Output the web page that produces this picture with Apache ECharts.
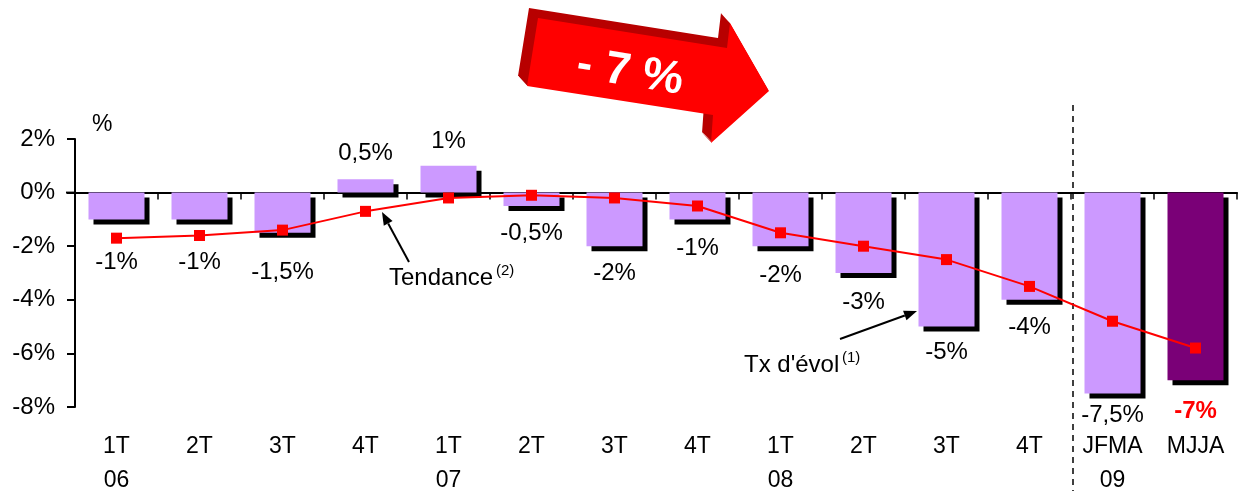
<!DOCTYPE html>
<html>
<head>
<meta charset="utf-8">
<script src="https://cdn.jsdelivr.net/npm/echarts@6/dist/echarts.min.js"></script>
<style>
  html, body { margin: 0; padding: 0; background: #fff; }
  #chart { width: 1239px; height: 491px; }
</style>
</head>
<body>
<div id="chart"></div>
<script>
// categories (trimestres / périodes)
const categories = ['1T\n06', '2T', '3T', '4T', '1T\n07', '2T', '3T', '4T', '1T\n08', '2T', '3T', '4T', 'JFMA\n09', 'MJJA']
// taux d'évolution (barres)
const evolution = [-1, -1, -1.5, 0.5, 1, -0.5, -2, -1, -2, -3, -5, -4, -7.5, -7]
const evolutionLabels = ['-1%', '-1%', '-1,5%', '0,5%', '1%', '-0,5%', '-2%', '-1%', '-2%', '-3%', '-5%', '-4%', '-7,5%', '-7%']
// tendance (ligne rouge)
const tendance = [-1.7, -1.6, -1.4, -0.7, -0.2, -0.1, -0.2, -0.5, -1.5, -2, -2.5, -3.5, -4.8, -5.8]
// distance des étiquettes par rapport aux barres
const labelGap = [31, 31, 28, 14, 12, 15, 15, 17, 17, 17, 14, 16, 10, 19]

const FONT = '"Liberation Sans", Arial, sans-serif'
const lightPurple = '#cc99ff'
const darkPurple = '#7a0077'

let barData = evolution.map((v, i) => {
  let last = i === evolution.length - 1
  return {
    value: v,
    itemStyle: { color: last ? darkPurple : lightPurple },
    label: {
      position: v >= 0 ? 'top' : 'bottom',
      distance: labelGap[i],
      formatter: evolutionLabels[i],
      color: last ? '#ff0000' : '#000',
      fontWeight: last ? 'bold' : 'normal'
    }
  }
})

// flèche d'annotation (ligne + pointe)
function arrow (x1, y1, x2, y2) {
  let a = Math.atan2(y2 - y1, x2 - x1)
  let len = 13, w = 5
  let bx = x2 - len * Math.cos(a), by = y2 - len * Math.sin(a)
  return [
    { type: 'line', shape: { x1: x1, y1: y1, x2: bx, y2: by }, style: { stroke: '#000', lineWidth: 2 } },
    { type: 'polygon', shape: { points: [[x2, y2], [bx + w * Math.sin(a), by - w * Math.cos(a)], [bx - w * Math.sin(a), by + w * Math.cos(a)]] }, style: { fill: '#000' } }
  ]
}

// grosse flèche rouge en relief
const bigArrow = [[538, 18], [727, 48], [730, 23], [769, 91], [711, 143], [713, 115], [527, 86]]
let bigArrowParts = []
for (let k = 10; k >= 1; k--) {
  let dx = -0.9 * k, dy = -1.0 * k
  bigArrowParts.push({
    type: 'polygon',
    shape: { points: bigArrow.map(p => [p[0] + dx, p[1] + dy]) },
    style: { fill: '#b80000' }
  })
}
bigArrowParts.push({ type: 'polygon', shape: { points: bigArrow }, style: { fill: '#ff0000' } })
bigArrowParts.push({
  type: 'text', x: 630, y: 73, rotation: -0.16,
  style: { text: '- 7 %', fill: '#fff', font: 'bold 46px ' + FONT, align: 'center', verticalAlign: 'middle' }
})

let option = {
  animation: false,
  grid: { left: 75, right: 2, top: 139, bottom: 84, outerBoundsMode: 'none', containLabel: false },
  xAxis: [
    {
      type: 'category',
      data: categories,
      position: 'bottom',
      axisLine: { onZero: true, lineStyle: { color: '#000', width: 2 } },
      axisTick: { show: true, length: 7, lineStyle: { color: '#000', width: 1.5 } },
      axisLabel: { show: false }
    },
    {
      type: 'category',
      data: categories,
      position: 'bottom',
      axisLine: { show: false, onZero: false },
      axisTick: { show: false },
      axisLabel: { color: '#000', fontSize: 23, fontFamily: FONT, lineHeight: 34, margin: 23 }
    }
  ],
  yAxis: {
    type: 'value',
    min: -8,
    max: 2,
    interval: 2,
    axisLine: { show: true, lineStyle: { color: '#000', width: 2 } },
    axisTick: { show: true, length: 8, lineStyle: { color: '#000', width: 2 } },
    splitLine: { show: false },
    axisLabel: { formatter: '{value}%', color: '#000', fontSize: 24, fontFamily: FONT, margin: 20 }
  },
  series: [
    {
      name: "Tx d'évol",
      type: 'bar',
      xAxisIndex: 0,
      barWidth: 56,
      data: barData,
      itemStyle: { shadowColor: '#000', shadowBlur: 0, shadowOffsetX: 5, shadowOffsetY: 5 },
      label: { show: true, fontSize: 24, fontFamily: FONT }
    },
    {
      name: 'Tendance',
      type: 'line',
      xAxisIndex: 0,
      data: tendance,
      symbol: 'rect',
      symbolSize: 11,
      lineStyle: { color: '#ff0000', width: 2 },
      itemStyle: { color: '#ff0000' },
      z: 5
    }
  ],
  graphic: [].concat(
    bigArrowParts,
    [
      { type: 'line', shape: { x1: 66, y1: 192.6, x2: 75, y2: 192.6 }, style: { stroke: '#000', lineWidth: 2 } },
      { type: 'text', x: 92, y: 113, style: { text: '%', fill: '#000', font: '23px ' + FONT } },
      { type: 'text', x: 389, y: 278, style: { text: 'Tendance', fill: '#000', font: '24px ' + FONT, verticalAlign: 'middle' } },
      { type: 'text', x: 496, y: 263, style: { text: '(2)', fill: '#000', font: '15px ' + FONT } },
      { type: 'text', x: 744, y: 365, style: { text: "Tx d'évol", fill: '#000', font: '24px ' + FONT, verticalAlign: 'middle' } },
      { type: 'text', x: 842, y: 350, style: { text: '(1)', fill: '#000', font: '15px ' + FONT } }
    ],
    arrow(409, 262, 382, 212),
    arrow(840, 339, 917, 311)
  )
}

let mychart = echarts.init(document.getElementById('chart'))
mychart.setOption(option)

// ligne pointillée entre 2008 et 2009
let xa = mychart.convertToPixel({ xAxisIndex: 0 }, 11)
let xb = mychart.convertToPixel({ xAxisIndex: 0 }, 12)
let sepX = (xa + xb) / 2 + 2
mychart.setOption({
  graphic: option.graphic.concat([{
    type: 'line',
    shape: { x1: sepX, y1: 105, x2: sepX, y2: 491 },
    style: { stroke: '#000', lineWidth: 1.5, lineDash: [6, 5] }
  }])
}, { replaceMerge: ['graphic'] })
</script>
</body>
</html>
